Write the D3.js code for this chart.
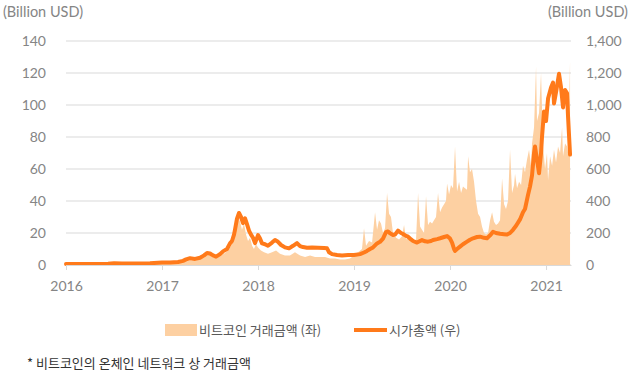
<!DOCTYPE html>
<html>
<head>
<meta charset="utf-8">
<script src="https://cdn.jsdelivr.net/npm/d3@7"></script>
<style>
  html, body { margin: 0; padding: 0; background: #fff; }
  svg text { font-family: Lato, "Noto Sans", sans-serif; }
  .kr { font-family: "Noto Sans CJK KR", "Noto Sans", sans-serif; }
</style>
</head>
<body>
<svg id="chart" width="630" height="376"></svg>
<script>
// x values are fractional years
const yearTicks = [2016, 2017, 2018, 2019, 2020, 2021];
const leftTicks = [0, 20, 40, 60, 80, 100, 120, 140];
const rightTicks = [0, 200, 400, 600, 800, 1000, 1200, 1400];

// on-chain transaction volume, billion USD (left axis)
const tradeVolume = [
  [2016.000, 0.6], [2016.146, 0.5], [2016.292, 0.8], [2016.438, 1.0], [2016.583, 0.8],
  [2016.729, 0.9], [2016.875, 1.2], [2017.000, 1.5], [2017.083, 1.5], [2017.167, 2],
  [2017.250, 2.5], [2017.333, 3], [2017.396, 4], [2017.448, 6], [2017.479, 8],
  [2017.521, 5], [2017.563, 4], [2017.604, 6], [2017.646, 7], [2017.688, 9],
  [2017.719, 12], [2017.750, 17], [2017.771, 22], [2017.792, 30], [2017.813, 27],
  [2017.833, 22], [2017.854, 26], [2017.875, 19], [2017.896, 15], [2017.917, 17],
  [2017.938, 12], [2017.958, 10], [2017.979, 13], [2018.000, 11], [2018.031, 9],
  [2018.063, 8], [2018.104, 7], [2018.146, 8], [2018.188, 9], [2018.229, 7],
  [2018.281, 6], [2018.333, 6], [2018.385, 8], [2018.438, 6], [2018.490, 5],
  [2018.542, 6], [2018.594, 5], [2018.646, 5], [2018.698, 5], [2018.750, 4],
  [2018.802, 4], [2018.854, 3.5], [2018.906, 3.5], [2018.958, 4], [2019.000, 6],
  [2019.042, 8], [2019.083, 10], [2019.104, 23], [2019.125, 12], [2019.156, 15],
  [2019.188, 14], [2019.219, 33], [2019.240, 22], [2019.260, 28], [2019.281, 26],
  [2019.302, 20], [2019.323, 23], [2019.344, 45], [2019.365, 32], [2019.385, 30],
  [2019.406, 20], [2019.438, 17], [2019.469, 16], [2019.500, 18], [2019.521, 25],
  [2019.542, 16], [2019.563, 18], [2019.594, 15], [2019.625, 14], [2019.646, 16],
  [2019.667, 45], [2019.688, 24], [2019.708, 22], [2019.729, 20], [2019.750, 43],
  [2019.771, 25], [2019.792, 27], [2019.813, 26], [2019.833, 28], [2019.854, 30],
  [2019.875, 45], [2019.896, 33], [2019.917, 36], [2019.938, 38], [2019.958, 40],
  [2019.969, 51], [2019.990, 44], [2020.010, 50], [2020.031, 48], [2020.052, 74],
  [2020.073, 46], [2020.094, 52], [2020.115, 45], [2020.135, 49], [2020.156, 48],
  [2020.177, 47], [2020.188, 68], [2020.208, 58], [2020.229, 60], [2020.250, 52],
  [2020.271, 40], [2020.292, 32], [2020.313, 30], [2020.333, 24], [2020.354, 20],
  [2020.375, 19], [2020.396, 20], [2020.417, 28], [2020.438, 33], [2020.458, 27],
  [2020.479, 25], [2020.500, 26], [2020.521, 28], [2020.542, 54], [2020.563, 38],
  [2020.583, 35], [2020.604, 40], [2020.625, 72], [2020.646, 45], [2020.667, 50],
  [2020.677, 57], [2020.698, 48], [2020.719, 52], [2020.740, 50], [2020.760, 62],
  [2020.781, 58], [2020.802, 66], [2020.823, 72], [2020.844, 62], [2020.854, 76],
  [2020.875, 86], [2020.896, 124], [2020.906, 90], [2020.927, 95], [2020.948, 120],
  [2020.969, 74], [2020.990, 60], [2021.010, 70], [2021.021, 53], [2021.042, 68],
  [2021.063, 62], [2021.083, 72], [2021.104, 64], [2021.125, 74], [2021.146, 70],
  [2021.167, 86], [2021.177, 68], [2021.198, 76], [2021.219, 74], [2021.229, 70],
  [2021.250, 127]
];

// market capitalisation, billion USD (right axis)
const marketCap = [
  [2016.000, 6.5], [2016.146, 6], [2016.292, 6.5], [2016.438, 8], [2016.500, 10.5],
  [2016.583, 10], [2016.729, 9.5], [2016.875, 11], [2017.000, 15], [2017.083, 16],
  [2017.167, 19], [2017.219, 26], [2017.250, 35], [2017.292, 42], [2017.344, 38],
  [2017.396, 45], [2017.438, 60], [2017.469, 75], [2017.500, 72], [2017.531, 60],
  [2017.563, 52], [2017.604, 68], [2017.635, 85], [2017.677, 100], [2017.708, 135],
  [2017.729, 150], [2017.750, 190], [2017.760, 220], [2017.781, 290], [2017.802, 325],
  [2017.823, 300], [2017.844, 262], [2017.865, 292], [2017.885, 255], [2017.906, 215],
  [2017.927, 190], [2017.948, 170], [2017.969, 137], [2018.000, 187], [2018.021, 165],
  [2018.042, 135], [2018.073, 130], [2018.104, 120], [2018.146, 140], [2018.177, 156],
  [2018.208, 145], [2018.240, 125], [2018.281, 110], [2018.323, 104], [2018.365, 120],
  [2018.406, 137], [2018.438, 118], [2018.469, 112], [2018.510, 108], [2018.563, 110],
  [2018.625, 108], [2018.688, 106], [2018.719, 104], [2018.740, 80], [2018.771, 68],
  [2018.823, 62], [2018.875, 60], [2018.938, 62], [2019.000, 62], [2019.063, 68],
  [2019.104, 78], [2019.135, 88], [2019.167, 100], [2019.198, 110], [2019.240, 135],
  [2019.271, 145], [2019.302, 165], [2019.333, 205], [2019.354, 210], [2019.375, 198],
  [2019.406, 188], [2019.427, 190], [2019.458, 215], [2019.490, 200], [2019.510, 194],
  [2019.542, 182], [2019.563, 177], [2019.594, 160], [2019.615, 150], [2019.656, 140],
  [2019.688, 150], [2019.708, 156], [2019.740, 148], [2019.771, 146], [2019.802, 150],
  [2019.823, 156], [2019.865, 162], [2019.896, 167], [2019.938, 175], [2019.969, 181],
  [2020.000, 165], [2020.021, 140], [2020.042, 100], [2020.052, 88], [2020.073, 100],
  [2020.104, 115], [2020.135, 130], [2020.177, 146], [2020.208, 158], [2020.240, 167],
  [2020.281, 175], [2020.313, 177], [2020.354, 170], [2020.385, 167], [2020.417, 185],
  [2020.448, 208], [2020.479, 200], [2020.521, 195], [2020.563, 192], [2020.594, 190],
  [2020.625, 200], [2020.656, 220], [2020.688, 245], [2020.729, 285], [2020.760, 330],
  [2020.781, 350], [2020.813, 440], [2020.833, 490], [2020.854, 560], [2020.875, 700],
  [2020.885, 740], [2020.906, 656], [2020.927, 573], [2020.948, 700], [2020.958, 800],
  [2020.979, 960], [2021.000, 900], [2021.021, 1040], [2021.052, 1110], [2021.073, 1140],
  [2021.083, 1010], [2021.104, 1080], [2021.115, 1120], [2021.135, 1195], [2021.156, 1110],
  [2021.177, 985], [2021.198, 1094], [2021.219, 1073], [2021.229, 930], [2021.250, 690]
];

const seriesNames = ['비트코인 거래금액 (좌)', '시가총액 (우)'];
const footnote = '* 비트코인의 온체인 네트워크 상 거래금액';

const AREA_COLOR = '#fdd0a2';
const LINE_COLOR = '#ff7a1a';
const TEXT_COLOR = '#858585';
const GRID_COLOR = '#d9d9d9';

const MARGIN = { top: 41, right: 59, bottom: 111, left: 66 };
const W = 630, H = 376;
const width = W - MARGIN.left - MARGIN.right;
const height = H - MARGIN.top - MARGIN.bottom;

const svg = d3.select('#chart');
const g = svg.append('g').attr('transform', `translate(${MARGIN.left},${MARGIN.top})`);

const x = d3.scaleLinear().domain([2016, 2021.26]).range([0, width]);
const yL = d3.scaleLinear().domain([0, 140]).range([height, 0]);
const yR = d3.scaleLinear().domain([0, 1400]).range([height, 0]);

// gridlines
g.append('g')
  .selectAll('line')
  .data(leftTicks)
  .join('line')
  .attr('x1', 0).attr('x2', width)
  .attr('y1', d => yL(d)).attr('y2', d => yL(d))
  .attr('stroke', GRID_COLOR)
  .attr('stroke-width', 1);

// volume area
const area = d3.area()
  .x(d => x(d[0]))
  .y0(yL(0))
  .y1(d => yL(d[1]));

g.append('path')
  .datum(tradeVolume)
  .attr('fill', AREA_COLOR)
  .attr('d', area);

// market cap line
const line = d3.line()
  .x(d => x(d[0]))
  .y(d => yR(d[1]));

g.append('path')
  .datum(marketCap)
  .attr('fill', 'none')
  .attr('stroke', LINE_COLOR)
  .attr('stroke-width', 4)
  .attr('stroke-linejoin', 'round')
  .attr('stroke-linecap', 'round')
  .attr('d', line);

// x axis
const xAxis = g.append('g')
  .attr('transform', `translate(0,${height})`)
  .call(d3.axisBottom(x).tickValues(yearTicks).tickFormat(d3.format('d'))
    .tickSize(5).tickPadding(11).tickSizeOuter(0));
xAxis.select('.domain').attr('stroke', GRID_COLOR);
xAxis.selectAll('.tick line').attr('stroke', GRID_COLOR);
xAxis.selectAll('text').attr('fill', TEXT_COLOR).style('font-size', '14px')
  .style('font-family', 'Lato, sans-serif');

// left axis
const yAxisL = g.append('g')
  .call(d3.axisLeft(yL).tickValues(leftTicks).tickSize(0).tickPadding(20));
yAxisL.select('.domain').remove();
yAxisL.selectAll('text').attr('fill', TEXT_COLOR).style('font-size', '14px')
  .style('font-family', 'Lato, sans-serif');

// right axis
const yAxisR = g.append('g')
  .attr('transform', `translate(${width},0)`)
  .call(d3.axisRight(yR).tickValues(rightTicks).tickSize(0).tickPadding(15)
    .tickFormat(d3.format(',')));
yAxisR.select('.domain').remove();
yAxisR.selectAll('text').attr('fill', TEXT_COLOR).style('font-size', '14px')
  .style('font-family', 'Lato, sans-serif');

// unit labels
svg.append('text').attr('x', 3).attr('y', 17)
  .attr('fill', TEXT_COLOR).style('font-size', '14.5px').text('(Billion USD)');
svg.append('text').attr('x', 628).attr('y', 17).attr('text-anchor', 'end')
  .attr('fill', TEXT_COLOR).style('font-size', '14.5px').text('(Billion USD)');

// legend
const legend = svg.append('g').attr('transform', 'translate(0,330)');
legend.append('rect')
  .attr('x', 165).attr('y', -6).attr('width', 32).attr('height', 12)
  .attr('fill', AREA_COLOR);
legend.append('text').attr('class', 'kr')
  .attr('x', 199).attr('y', 5).attr('fill', '#595959').style('font-size', '13px')
  .text(seriesNames[0]);
legend.append('line')
  .attr('x1', 354).attr('x2', 387).attr('y1', 0).attr('y2', 0)
  .attr('stroke', LINE_COLOR).attr('stroke-width', 4);
legend.append('text').attr('class', 'kr')
  .attr('x', 389).attr('y', 5).attr('fill', '#595959').style('font-size', '13px')
  .text(seriesNames[1]);

// footnote
svg.append('text').attr('class', 'kr')
  .attr('x', 27).attr('y', 368).attr('fill', '#333').style('font-size', '13px')
  .text(footnote);
</script>
</body>
</html>
